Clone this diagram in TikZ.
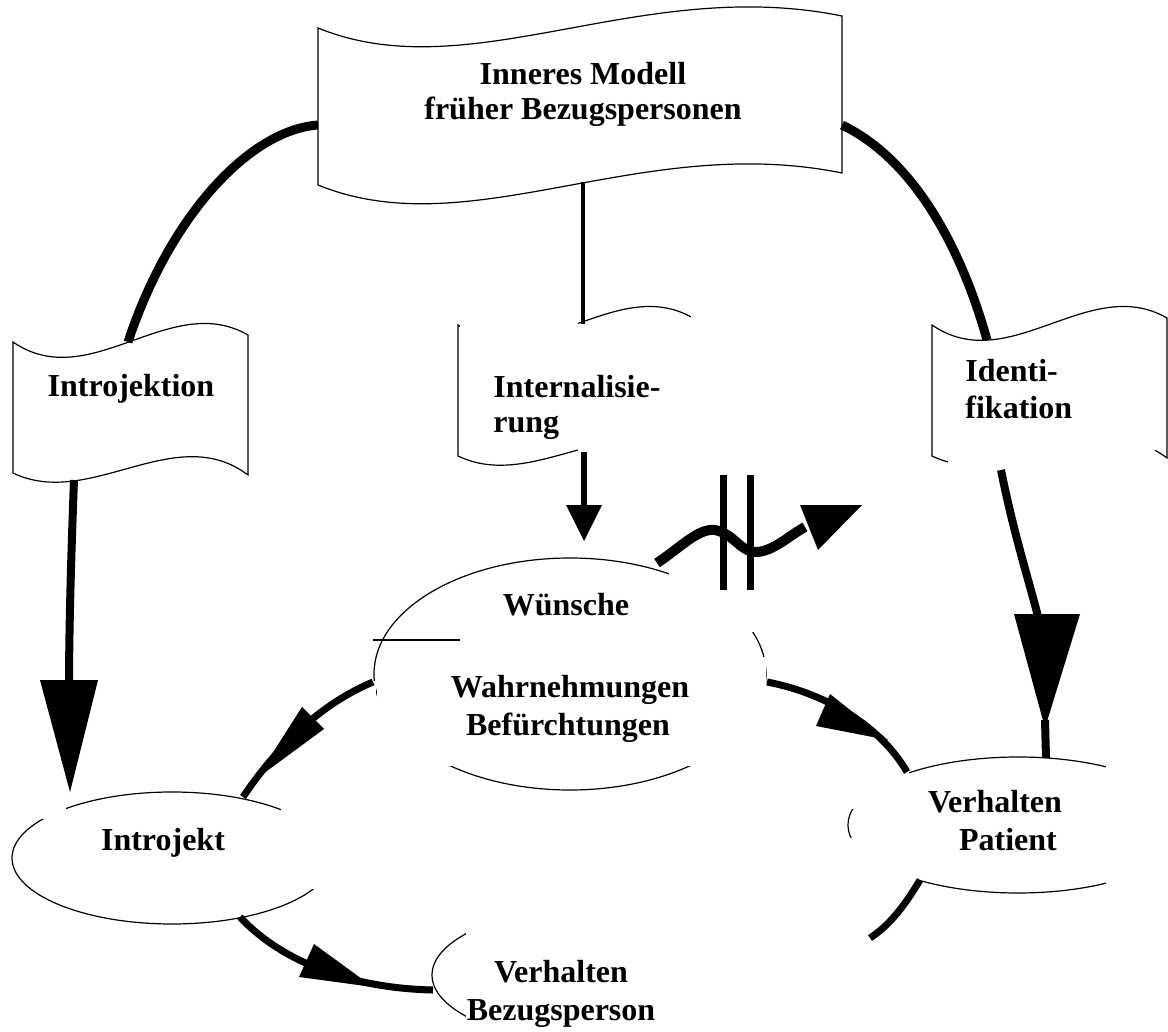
\documentclass[tikz,border=0pt]{standalone}
\usepackage{fontspec}
\setmainfont{Liberation Serif}
\begin{document}
\begin{tikzpicture}[x=0.5pt,y=-0.5pt,
  outl/.style={line width=0.6pt},
  thk/.style={line width=4.5pt},
  mid/.style={line width=3.5pt},
  head/.style={fill=black,draw=none},
  mask/.style={fill=white,draw=none},
  lbl/.style={inner sep=0pt,font=\bfseries\fontsize{16}{19}\selectfont},
  wavebox/.pic={\draw[outl,fill=white] (0,0) .. controls (77,53) and (157,-52) .. (235,-7) -- (235,133) .. controls (162,78) and (77,168) .. (0,131) -- cycle;}
]
\useasboundingbox (0,0) rectangle (1168,1032);

% wave boxes
\draw[outl,fill=white] (318,28) .. controls (470,90) and (640,-25) .. (842,16) -- (842,173) .. controls (640,132) and (470,247) .. (318,185) -- cycle;
\pic (bIntro) at (13,342) {wavebox};
\pic (bInt) at (458,325) {wavebox};
\pic (bIdent) at (932,325) {wavebox};

% ellipses
\draw[outl,fill=white] (570,674) ellipse [x radius=196,y radius=116];
\draw[outl,fill=white] (172,858) ellipse [x radius=160,y radius=66];
\draw[outl,fill=white] (1018,825) ellipse [x radius=170,y radius=68];
\draw[outl,fill=white] (620,975) ellipse [x radius=188,y radius=72];

% white frames hiding parts of the outlines
\fill[mask] (460,312) rectangle (578,352);
\fill[mask] (691,300) rectangle (706,476);
\fill[mask] (578,422) rectangle (706,476);
\fill[mask] (948,425) rectangle (1155,482);
\fill[mask] (377,657) rectangle (766,766);
\fill[mask] (669,552) rectangle (772,632);
\fill[mask] (360,681) rectangle (376,705);
\fill[mask] (41,788) rectangle (66,819);
\fill[mask] (281,785) rectangle (340,889);
\fill[mask] (1106,740) rectangle (1168,910);
\fill[mask] (840,745) rectangle (909,809);
\fill[mask] (840,838) rectangle (919,905);
\fill[mask] (466,895) rectangle (820,1032);
\draw[outl] (373,640) -- (460,640);

% connector end points
\coordinate (mL) at (318,125);
\coordinate (ijT) at (128,342);
\coordinate (mR) at (842,125);
\coordinate (idT) at (987,340);
\coordinate (mB) at (583,182);
\coordinate (inT) at (583,324);
\coordinate (inB) at (584,452);
\coordinate (inA) at (584,507);
\coordinate (ijB) at (74,480);
\coordinate (ijA) at (69,690);
\coordinate (idB) at (1001,470);
\coordinate (idA) at (1040,625);

\draw[thk] (mL) .. controls (250,130) and (170,215) .. (ijT);
\draw[thk] (mR) .. controls (915,160) and (962,250) .. (idT);
\draw[line width=2pt] (mB) -- (inT);

% Internalisierung -> Wuensche
\draw[line width=3pt] (inB) -- (inA);
\fill[head] (566,505) -- (602,505) -- (584,541) -- cycle;

% Introjektion -> Introjekt
\draw[line width=4pt] (ijB) .. controls (71,560) and (69,630) .. (ijA);
\fill[head] (40,680) -- (98,680) -- (70,792) -- cycle;

% Identifikation -> Verhalten Patient
\draw[line width=4pt] (idB) .. controls (1015,540) and (1032,590) .. (idA);
\fill[head] (1014,614) -- (1080,614) -- (1045,728) -- cycle;
\draw[line width=4pt] (1045,720) -- (1046,758);

% wavy blocked arrow
\draw[line width=5pt] (657,563) .. controls (680,548) and (698,528) .. (715,530) .. controls (735,534) and (740,553) .. (758,552) .. controls (775,550) and (790,535) .. (805,527);
\fill[head] (800,505) -- (862,505) -- (818,550) -- cycle;
\draw[line width=3.5pt] (723,475) -- (723,590);
\draw[line width=3.5pt] (750,475) -- (750,590);

% arcs between the ellipses
\draw[mid] (373,682) .. controls (330,700) and (285,735) .. (243,797);
\fill[head] (302,707) -- (324,729) -- (256,779) -- cycle;
\draw[mid] (767,682) .. controls (820,692) and (878,722) .. (907,772);
\fill[head] (830,694) -- (816,726) -- (888,740) -- cycle;
\draw[mid] (240,917) .. controls (275,955) and (340,988) .. (433,990);
\fill[head] (314,944) -- (299,977) -- (373,987) -- cycle;
\draw[mid] (920,880) .. controls (905,905) and (890,925) .. (870,938);

% texts
\node[lbl,anchor=base] (t1) at (583,85) {Inneres Modell};
\node[lbl,anchor=base] (t2) at (583,120) {früher Bezugspersonen};
\node[lbl,anchor=base] (t3) at (131,396) {Introjektion};
\node[lbl,anchor=base west] (t4) at (493,398) {Internalisie-};
\node[lbl,anchor=base west] (t5) at (493,432) {rung};
\node[lbl,anchor=base west] (t6) at (965,382) {Identi-};
\node[lbl,anchor=base west] (t7) at (965,418) {fikation};
\node[lbl,anchor=base] (t8) at (566,615) {Wünsche};
\node[lbl,anchor=base] (t9) at (570,697) {Wahrnehmungen};
\node[lbl,anchor=base] (t10) at (568,735) {Befürchtungen};
\node[lbl,anchor=base] (t11) at (163,850) {Introjekt};
\node[lbl,anchor=base] (t12) at (995,812) {Verhalten};
\node[lbl,anchor=base] (t13) at (1008,850) {Patient};
\node[lbl,anchor=base] (t14) at (561,982) {Verhalten};
\node[lbl,anchor=base] (t15) at (561,1020) {Bezugsperson};
\end{tikzpicture}
\end{document}
